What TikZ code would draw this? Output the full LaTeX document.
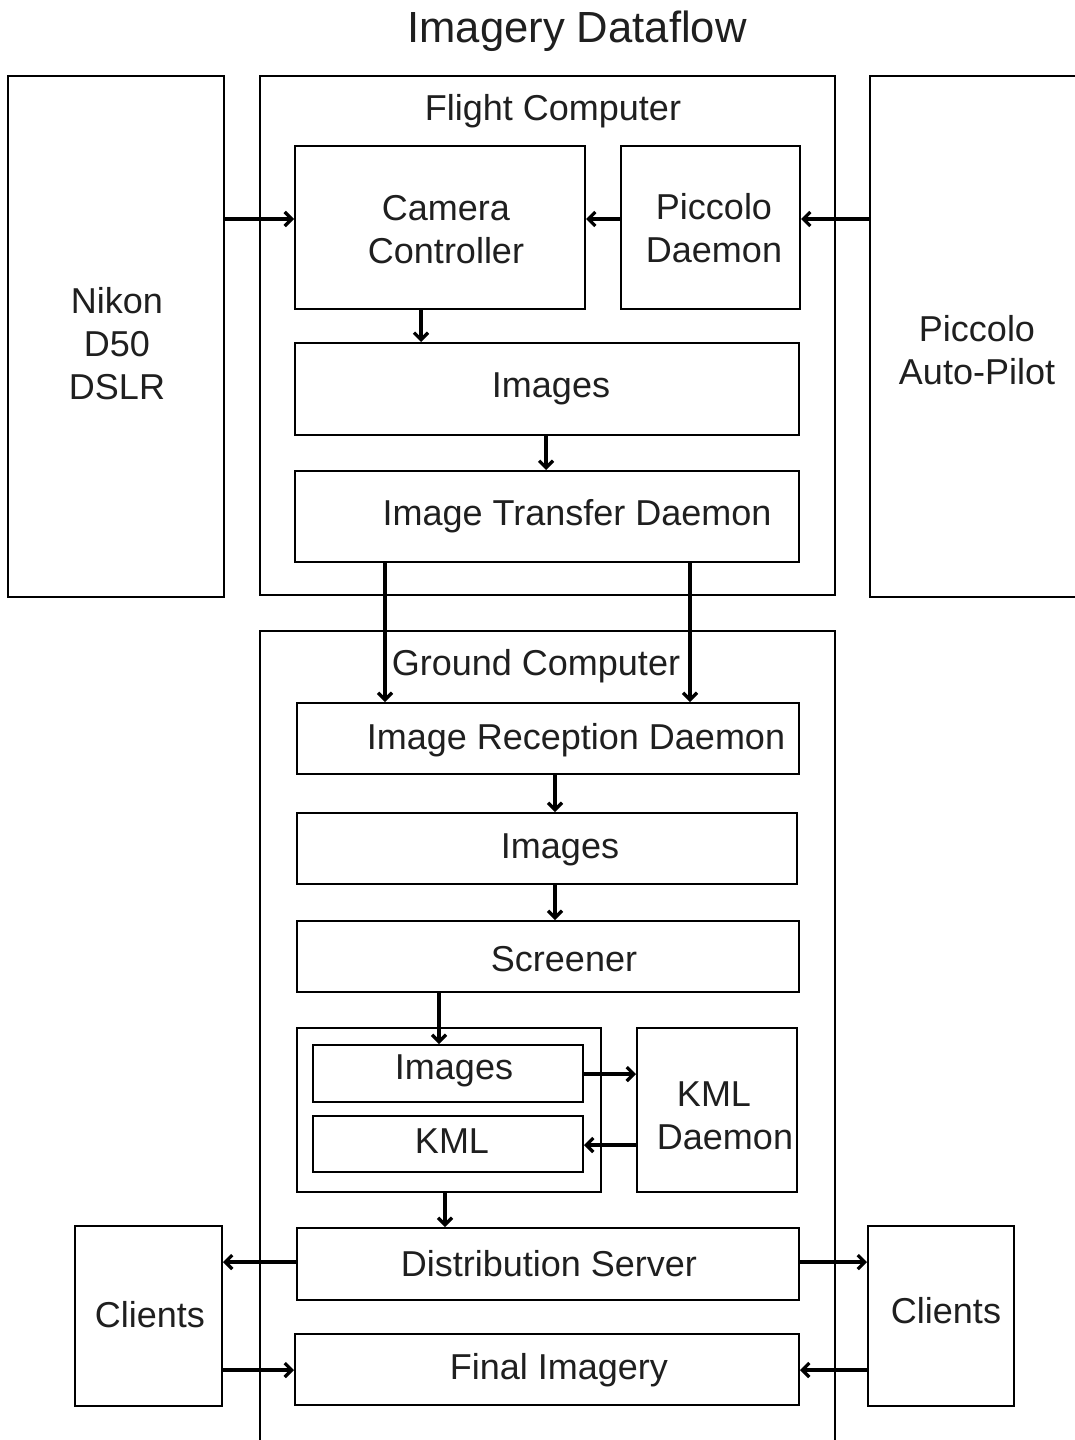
\documentclass[tikz,border=0pt]{standalone}
\usepackage{fontspec}
\setmainfont{Liberation Sans}
\usetikzlibrary{fit,arrows.meta}
\begin{document}
\begin{tikzpicture}[x=1pt,y=-1pt,
  box/.style={draw, line width=2pt, inner sep=0pt},
  lbl/.style={font=\fontsize{36}{43}\selectfont, align=center, inner sep=0pt, text=black!88, yshift=-3pt},
  arr/.style={line width=3.2pt, -{Straight Barb[length=7pt,width=14pt]}}]
\useasboundingbox[fill=white] (0,0) rectangle (1074,1440);
\node[font=\fontsize{43.6}{50}\selectfont, inner sep=0pt, text=black!88] (title) at (577,31) {Imagery Dataflow};
% left / right devices
\node[box, fit={(8,76) (224,597)}] (nikon) {};
\node[lbl] (nikonT) at (117,341) {Nikon\\D50\\DSLR};
\node[box, fit={(870,76) (1080,597)}] (auto) {};
\node[lbl] (autoT) at (977,347) {Piccolo\\Auto-Pilot};
% flight computer
\node[box, fit={(260,76) (835,595)}] (fc) {};
\node[lbl] (fcT) at (553,108) {Flight Computer};
\node[box, fit={(295,146) (585,309)}] (cam) {};
\node[lbl] (camT) at (446,227) {Camera\\Controller};
\node[box, fit={(621,146) (800,309)}] (pd) {};
\node[lbl] (pdT) at (714,225) {Piccolo\\Daemon};
\node[box, fit={(295,343) (799,435)}] (img1) {};
\node[lbl] (img1T) at (551,386) {Images};
\node[box, fit={(295,471) (799,562)}] (itd) {};
\node[lbl] (itdT) at (577,513) {Image Transfer Daemon};
% ground computer
\node[box, fit={(260,631) (835,1450)}] (gc) {};
\node[lbl] (gcT) at (536,663) {Ground Computer};
\node[box, fit={(297,703) (799,774)}] (ird) {};
\node[lbl] (irdT) at (576,737) {Image Reception Daemon};
\node[box, fit={(297,813) (797,884)}] (img2) {};
\node[lbl] (img2T) at (560,847) {Images};
\node[box, fit={(297,921) (799,992)}] (scr) {};
\node[lbl] (scrT) at (564,956) {Screener};
\node[box, fit={(297,1028) (601,1192)}] (cont) {};
\node[box, fit={(313,1045) (583,1102)}] (img3) {};
\node[lbl] (img3T) at (454,1068) {Images};
\node[box, fit={(313,1116) (583,1172)}] (kml) {};
\node[lbl] (kmlT) at (452,1138) {KML};
\node[box, fit={(637,1028) (797,1192)}] (kd) {};
\node[lbl] (kdT1) at (714,1091) {KML};
\node[lbl] (kdT2) at (725,1134) {Daemon};
\node[box, fit={(297,1228) (799,1300)}] (ds) {};
\node[lbl] (dsT) at (549,1261) {Distribution Server};
\node[box, fit={(295,1334) (799,1405)}] (fi) {};
\node[lbl] (fiT) at (559,1367) {Final Imagery};
\node[box, fit={(75,1226) (222,1406)}] (cl) {};
\node[lbl] (clT) at (150,1312) {Clients};
\node[box, fit={(868,1226) (1014,1406)}] (cr) {};
\node[lbl] (crT) at (946,1308) {Clients};
% connectors
\draw[arr] (nikon.east |- 0,219) -- (cam.west |- 0,219);
\draw[arr] (auto.west |- 0,219) -- (pd.east |- 0,219);
\draw[arr] (pd.west |- 0,219) -- (cam.east |- 0,219);
\draw[arr] (cam.south -| 421,0) -- (img1.north -| 421,0);
\draw[arr] (img1.south -| 546,0) -- (itd.north -| 546,0);
\draw[arr] (itd.south -| 385,0) -- (ird.north -| 385,0);
\draw[arr] (itd.south -| 690,0) -- (ird.north -| 690,0);
\draw[arr] (ird.south -| 555,0) -- (img2.north -| 555,0);
\draw[arr] (img2.south -| 555,0) -- (scr.north -| 555,0);
\draw[arr] (scr.south -| 439,0) -- (img3.north -| 439,0);
\draw[arr] (img3.east |- 0,1074) -- (kd.west |- 0,1074);
\draw[arr] (kd.west |- 0,1145) -- (kml.east |- 0,1145);
\draw[arr] (cont.south -| 445,0) -- (ds.north -| 445,0);
\draw[arr] (ds.west |- 0,1262) -- (cl.east |- 0,1262);
\draw[arr] (ds.east |- 0,1262) -- (cr.west |- 0,1262);
\draw[arr] (cl.east |- 0,1370) -- (fi.west |- 0,1370);
\draw[arr] (cr.west |- 0,1370) -- (fi.east |- 0,1370);
\end{tikzpicture}
\end{document}
